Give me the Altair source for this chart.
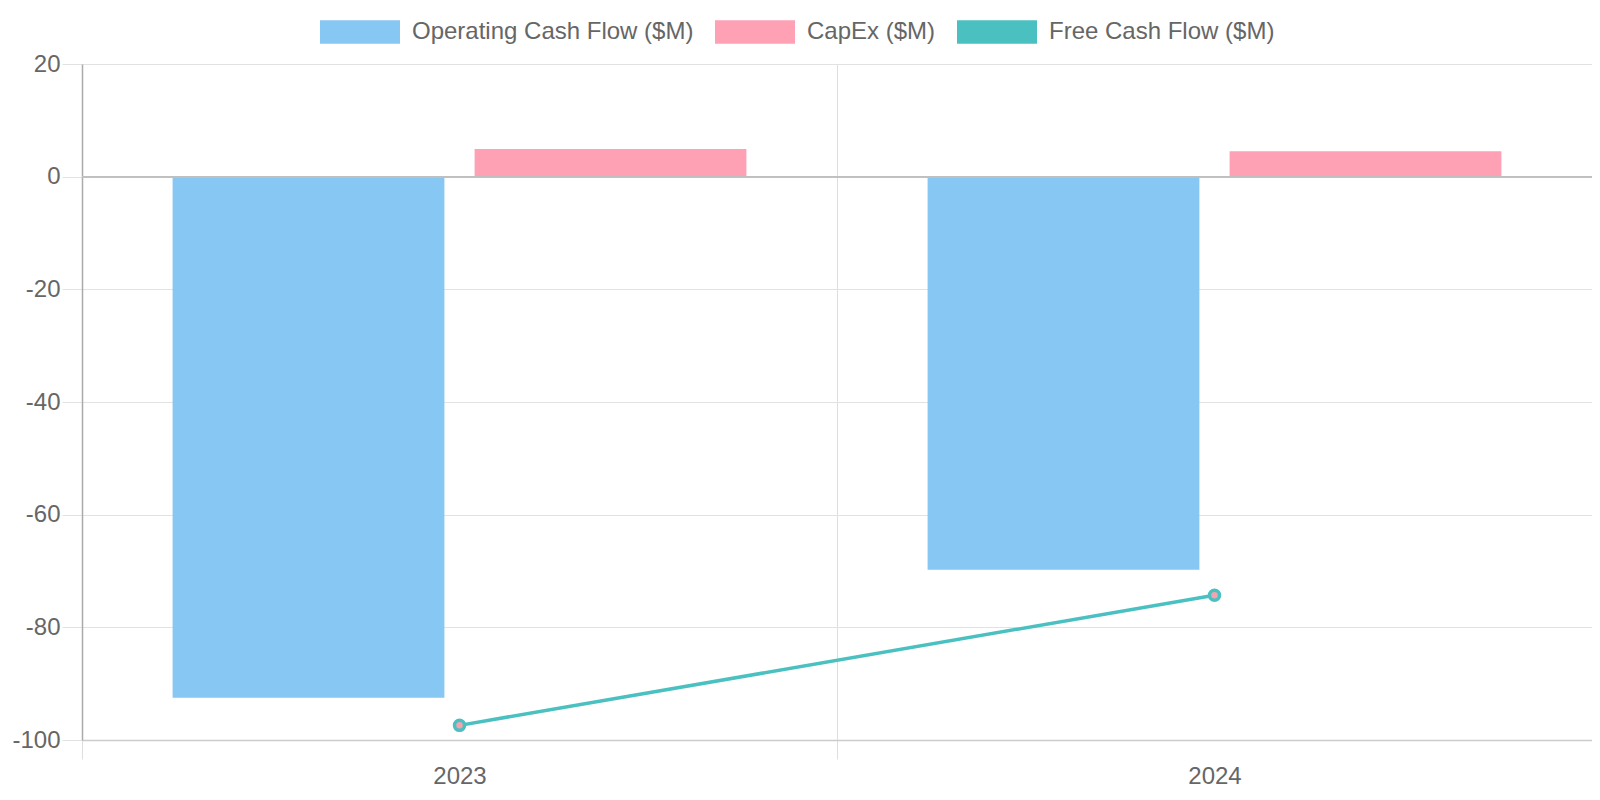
import altair as alt
import pandas as pd

years = ["2023", "2024"]
operating_cash_flow = [-92.5, -69.8]
capex = [4.9, 4.5]
free_cash_flow = [-97.4, -74.3]

series = ["Operating Cash Flow ($M)", "CapEx ($M)", "Free Cash Flow ($M)"]
colors = ["#86C7F3", "#FFA1B5", "#4BC0C0"]
y_ticks = [-100, -80, -60, -40, -20, 0, 20]

bars = pd.DataFrame({
    "year": years * 2,
    "series": [series[0]] * 2 + [series[1]] * 2,
    "value": operating_cash_flow + capex,
})
line = pd.DataFrame({"year": years, "series": [series[2]] * 2, "value": free_cash_flow})

font = "Liberation Sans"
x_scale = alt.Scale(domain=years, paddingInner=0, paddingOuter=0)
y_scale = alt.Scale(domain=[-100, 20], nice=False, zero=False)
color_scale = alt.Scale(domain=series, range=colors)

x_axis = alt.Axis(title=None, labelAngle=0, tickBand="extent", grid=True,
                  gridColor="#dedede", tickColor="#dedede", tickSize=19,
                  domainColor="#cccccc", domainWidth=1.5, labelFontSize=24,
                  labelColor="#666666", labelFont=font, labelPadding=5)
y_axis = alt.Axis(title=None, values=y_ticks, grid=True, gridColor="#e2e2e2",
                  tickColor="#e2e2e2", tickSize=20, domainColor="#aaaaaa",
                  domainWidth=1.5, labelFontSize=24, labelColor="#666666",
                  labelFont=font, labelPadding=2,
                  labelExpr="'' + datum.value")

legend = alt.Legend(
    title=None, orient="none", legendX=238, legendY=-72, direction="horizontal",
    symbolType="M-1,-0.294H1V0.294H-1Z", symbolSize=6400, symbolOpacity=1,
    symbolStrokeWidth=0, labelLimit=0,
    labelFontSize=24, labelFont=font, labelColor="#666666", labelOffset=12,
    columnPadding=21, padding=0,
)

bar_layer = alt.Chart(bars).mark_bar().encode(
    x=alt.X("year:N", scale=x_scale, axis=x_axis, sort=years),
    xOffset=alt.XOffset("series:N", scale=alt.Scale(domain=series[:2], paddingInner=0.1, paddingOuter=0.3)),
    y=alt.Y("value:Q", scale=y_scale, axis=y_axis, stack=None),
    color=alt.Color("series:N", scale=color_scale, legend=legend),
)

zero_rule = alt.Chart(bars).mark_rule(color="#bfbfbf", strokeWidth=1.5).encode(
    y=alt.datum(0, scale=y_scale)
)

line_layer = alt.Chart(line).mark_line(strokeWidth=3.5).encode(
    x=alt.X("year:N", scale=x_scale, sort=years),
    y=alt.Y("value:Q", scale=y_scale),
    color=alt.Color("series:N", scale=color_scale, legend=legend),
)

point_layer = alt.Chart(line).mark_point(
    shape="circle", filled=True, fill="#F4A3AF", stroke="#4BC0C0",
    strokeWidth=3.5, size=100, opacity=1
).encode(
    x=alt.X("year:N", scale=x_scale, sort=years),
    y=alt.Y("value:Q", scale=y_scale),
)

chart = alt.layer(bar_layer, zero_rule, line_layer, point_layer).properties(
    width=1510, height=676,
    autosize=alt.AutoSizeParams(type="none"),
    padding={"left": 74, "top": 56, "right": 0, "bottom": 52},
).configure_view(stroke=None).configure(font=font, background="white")

chart.save("out.html", embed_options={"renderer": "svg", "actions": False})
